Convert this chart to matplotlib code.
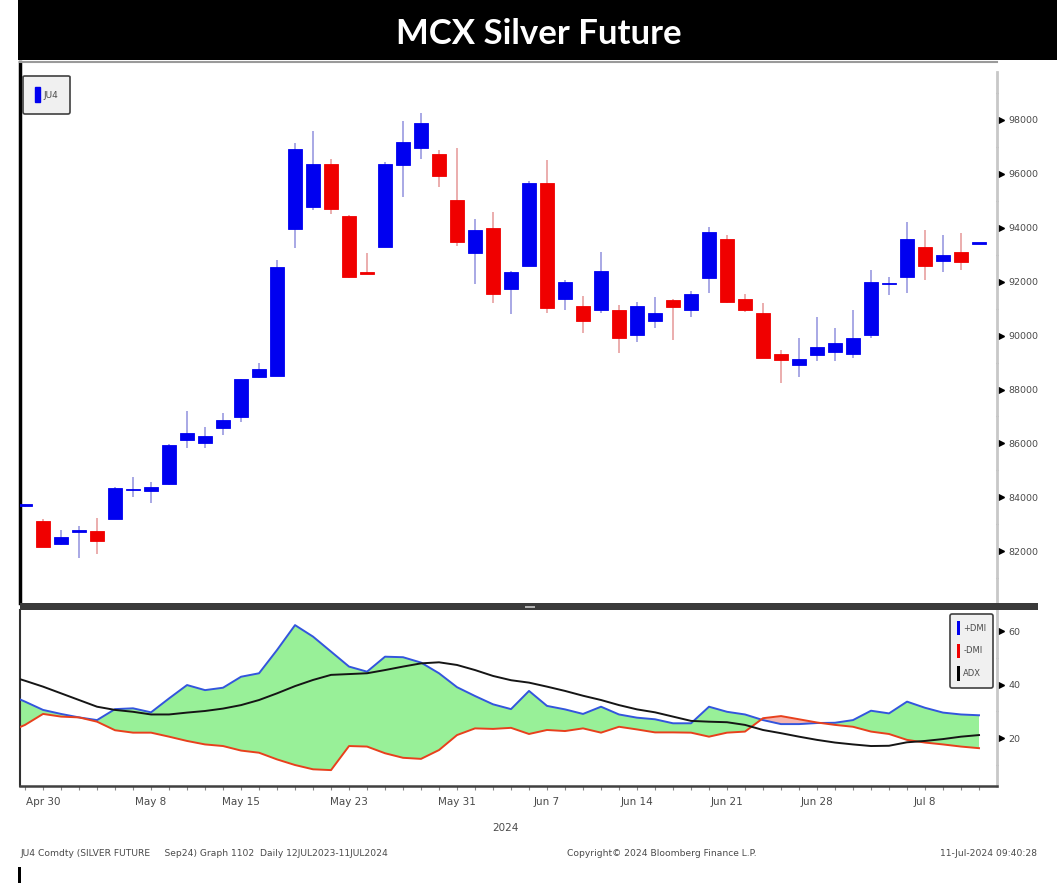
import numpy as np
import matplotlib
matplotlib.use("Agg")
import matplotlib.pyplot as plt
import matplotlib.transforms as mtransforms
from matplotlib.patches import Rectangle, Patch

W, H = 1061, 883

# ---------------------------------------------------------------------------
# Data (daily candles, index 0 = 29 Apr 2024 ... 53 = 11 Jul 2024)
# ---------------------------------------------------------------------------
opens = [83680, 83120, 82270, 82720, 82750, 83200, 84260, 84250, 84480, 86130,
         86000, 86570, 86990, 88450, 88500, 93950, 94760, 96370, 94450, 92350,
         93290, 96330, 96970, 96730, 95030, 93080, 93980, 91720, 92590, 95670,
         91360, 91110, 90950, 90950, 90020, 90550, 91320, 90950, 92140, 93590,
         91360, 90840, 89320, 88910, 89280, 89390, 89320, 90020, 91900, 92180,
         93290, 92770, 93100, 93400]
closes = [83720, 82160, 82530, 82750, 82380, 84360, 84280, 84400, 85930, 86390,
          86280, 86870, 88380, 88770, 92530, 96910, 96370, 94690, 92190, 92300,
          96370, 97190, 97900, 95910, 93470, 93920, 91550, 92350, 95670, 91010,
          92000, 90540, 92410, 89900, 91110, 90830, 91070, 91550, 93850, 91250,
          90950, 89170, 89100, 89130, 89580, 89730, 89910, 91990, 91930, 93590,
          92580, 92990, 92730, 93440]
highs = [83760, 83200, 82790, 82950, 83230, 84400, 84770, 84580, 85980, 87200,
         86620, 87140, 88400, 88970, 92810, 97140, 97600, 96540, 94460, 93080,
         96450, 97960, 98250, 96890, 96950, 94320, 94600, 92410, 95750, 96520,
         92060, 91470, 93090, 91140, 91260, 91420, 91360, 91660, 94040, 93720,
         91550, 91200, 89470, 89910, 90690, 90280, 90950, 92440, 92180, 94220,
         93920, 93730, 93810, 93450]
lows = [83640, 82150, 82250, 81750, 81900, 83190, 84020, 83780, 84470, 85820,
        85820, 86310, 86810, 88440, 88490, 93240, 94660, 94510, 92150, 92290,
        93280, 95150, 96550, 95520, 93340, 91900, 91200, 90800, 92580, 90830,
        90950, 90090, 90830, 89340, 89780, 90270, 89840, 90700, 91580, 91200,
        90880, 89160, 88240, 88470, 89060, 89060, 89170, 89910, 91510, 91580,
        92060, 92360, 92440, 93390]

# DMI study, index -1 .. 53
plus_dmi = [36.5, 33.6, 30.5, 29.0, 27.7, 26.7, 30.8, 31.1, 29.6, 34.8, 39.8,
            37.9, 38.8, 42.9, 44.2, 52.9, 62.2, 57.9, 52.3, 46.7, 44.8, 50.4,
            50.2, 48.2, 44.2, 39.0, 35.7, 32.6, 30.8, 37.6, 32.0, 30.7, 29.0,
            31.7, 28.8, 27.6, 27.0, 25.5, 25.5, 31.7, 29.8, 28.8, 26.7, 25.2,
            25.2, 25.6, 25.7, 26.7, 30.2, 29.2, 33.6, 31.3, 29.5, 28.8, 28.5]
minus_dmi = [22.0, 24.9, 29.0, 28.0, 27.7, 26.1, 22.9, 22.0, 22.0, 20.5, 18.9,
             17.6, 17.0, 15.3, 14.5, 12.0, 9.9, 8.3, 8.0, 17.0, 16.8, 14.3,
             12.6, 12.2, 15.5, 21.1, 23.6, 23.4, 23.8, 21.5, 23.0, 22.6, 23.6,
             22.0, 24.2, 23.2, 22.1, 22.1, 22.0, 20.5, 22.0, 22.4, 27.4, 28.2,
             27.0, 25.8, 24.9, 24.2, 22.4, 21.5, 19.3, 18.3, 17.6, 16.8, 16.2]
adx = [43.5, 41.4, 39.2, 36.7, 34.2, 31.7, 30.5, 29.8, 28.8, 28.8, 29.5,
       30.1, 31.0, 32.3, 34.2, 36.7, 39.4, 41.7, 43.6, 43.9, 44.2, 45.4,
       46.7, 47.9, 48.3, 47.3, 45.4, 43.2, 41.6, 40.7, 39.2, 37.6, 35.8,
       34.2, 32.3, 30.7, 29.6, 28.0, 26.4, 26.1, 25.9, 24.9, 23.0, 21.8,
       20.5, 19.3, 18.3, 17.6, 17.0, 17.1, 18.4, 18.9, 19.6, 20.5, 21.1]

date_idx = [1, 7, 12, 18, 24, 29, 34, 39, 44, 50]
date_labels = ["Apr 30", "May 8", "May 15", "May 23", "May 31", "Jun 7",
               "Jun 14", "Jun 21", "Jun 28", "Jul 8"]

price_ticks = [82000, 84000, 86000, 88000, 90000, 92000, 94000, 96000, 98000]
dmi_ticks = [20, 40, 60]

BLUE = "#0000f0"
RED = "#f00000"
GRAY_TXT = "#4a4a4a"
SMALL_FONT = ["Liberation Sans Narrow", "DejaVu Sans"]


def fx(px):
    return px / W


def fy(py):
    return 1 - py / H


fig = plt.figure(figsize=(W / 100, H / 100), dpi=100)
fig.patch.set_facecolor("white")

# title band
fig.patches.append(Rectangle((fx(18), fy(60)), fx(1057) - fx(18), fy(0) - fy(60),
                             transform=fig.transFigure, facecolor="black",
                             edgecolor="none", zorder=0))
fig.text(fx(539), fy(34), "MCX Silver Future", color="white", fontsize=25,
         fontweight="bold", family="Lato", ha="center", va="center")

# ---------------------------------------------------------------------------
# Upper panel: candles
# ---------------------------------------------------------------------------
ax = fig.add_axes([fx(20), fy(603), fx(997) - fx(20), fy(62) - fy(603)])
n = len(opens)
idx = np.arange(n)
o = np.array(opens, float)
c = np.array(closes, float)
up = c >= o
cols = np.where(up, BLUE, RED)
wick_cols = np.where(up, "#9a9ae0", "#e8a0a0")

ax.vlines(idx, lows, highs, colors=wick_cols, linewidth=1.2, zorder=2)
body = np.where(np.abs(c - o) < 60, 60, np.abs(c - o))
ax.bar(idx, body, bottom=np.minimum(o, c), width=0.82, color=cols,
       edgecolor=cols, linewidth=0.6, zorder=3)

ax.set_xlim(-0.28, 54.0)
ax.set_ylim(80080, 100150)
ax.set_xticks([])
ax.yaxis.tick_right()
ax.set_yticks(price_ticks)
ax.set_yticklabels([str(t) for t in price_ticks], fontsize=6.8, color=GRAY_TXT,
                   family=SMALL_FONT)
ax.set_yticks(np.arange(81000, 100000, 2000), minor=True)
ax.tick_params(axis="y", which="major", length=0, pad=8)
ax.tick_params(axis="y", which="minor", length=2, width=1, color="#555555",
               direction="inout")
ax.spines["left"].set_color("black")
ax.spines["left"].set_linewidth(2.5)
ax.spines["top"].set_color("#9a9a9a")
ax.spines["top"].set_linewidth(1.5)
ax.spines["bottom"].set_visible(False)
ax.spines["right"].set_color("#c8c8c8")
ax.spines["right"].set_linewidth(2)
ax.spines["right"].set_bounds(80080, 99780)
trans = mtransforms.blended_transform_factory(ax.transAxes, ax.transData)
ax.plot([1.004] * len(price_ticks), price_ticks, ls="none", marker=">", ms=4,
        color="black", transform=trans, clip_on=False)

leg = ax.legend(handles=[Patch(facecolor=BLUE, edgecolor=BLUE, label="JU4")],
                loc="upper left", bbox_to_anchor=(0.003, 0.975), borderaxespad=0,
                handlelength=0.55, handleheight=2.2, handletextpad=0.4,
                borderpad=1.3, fancybox=True, framealpha=1,
                prop={"family": SMALL_FONT, "size": 6.5})
leg.get_frame().set_facecolor("#f0f0f0")
leg.get_frame().set_edgecolor("#404040")
leg.get_frame().set_linewidth(1.2)
for t in leg.get_texts():
    t.set_color(GRAY_TXT)

# separator bar
fig.patches.append(Rectangle((fx(20), fy(610)), fx(1038) - fx(20), fy(603) - fy(610),
                             transform=fig.transFigure, facecolor="#3a3a3a",
                             edgecolor="none", zorder=5))
fig.patches.append(Rectangle((fx(525), fy(607.5)), fx(10), fy(606) - fy(607.5),
                             transform=fig.transFigure, facecolor="#b0b0b0",
                             edgecolor="none", zorder=6))

# ---------------------------------------------------------------------------
# Lower panel: DMI
# ---------------------------------------------------------------------------
ax2 = fig.add_axes([fx(20), fy(786), fx(997) - fx(20), fy(610) - fy(786)])
didx = np.arange(-1, n)
p = np.array(plus_dmi)
m = np.array(minus_dmi)
ax2.fill_between(didx, p, m, where=p >= m, interpolate=True, color="#98f098",
                 linewidth=0, zorder=1)
ax2.fill_between(didx, p, m, where=p < m, interpolate=True, color="#f5b5b0",
                 linewidth=0, zorder=1)
ax2.plot(didx, p, color="#3355dd", lw=1.4, zorder=3, label="+DMI")
ax2.plot(didx, m, color="#e8401c", lw=1.4, zorder=3, label="-DMI")
ax2.plot(didx, adx, color="#151515", lw=1.4, zorder=4, label="ADX")

ax2.set_xlim(-0.28, 54.0)
ax2.set_ylim(2.06, 67.85)
ax2.set_xticks(date_idx)
ax2.set_xticklabels(date_labels, fontsize=7.5, color=GRAY_TXT, family=SMALL_FONT)
ax2.set_xticks(np.arange(0, n), minor=True)
ax2.tick_params(axis="x", which="both", length=3, width=0.8, color="#888888",
                pad=5)
ax2.yaxis.tick_right()
ax2.set_yticks(dmi_ticks)
ax2.set_yticklabels([str(t) for t in dmi_ticks], fontsize=6.8, color=GRAY_TXT,
                    family=SMALL_FONT)
ax2.set_yticks([10, 30, 50], minor=True)
ax2.tick_params(axis="y", which="major", length=0, pad=8)
ax2.tick_params(axis="y", which="minor", length=2, width=1, color="#555555",
                direction="inout")
ax2.spines["top"].set_visible(False)
ax2.spines["left"].set_color("#303030")
ax2.spines["left"].set_linewidth(1.5)
ax2.spines["bottom"].set_color("#404040")
ax2.spines["bottom"].set_linewidth(1.8)
ax2.spines["right"].set_color("#c8c8c8")
ax2.spines["right"].set_linewidth(2)
trans2 = mtransforms.blended_transform_factory(ax2.transAxes, ax2.transData)
ax2.plot([1.004] * len(dmi_ticks), dmi_ticks, ls="none", marker=">", ms=4,
         color="black", transform=trans2, clip_on=False)

handles = [Patch(facecolor=BLUE, label="+DMI"), Patch(facecolor=RED, label="-DMI"),
           Patch(facecolor="black", label="ADX")]
leg2 = ax2.legend(handles=handles, loc="upper right", bbox_to_anchor=(0.996, 0.977),
                  borderaxespad=0, handlelength=0.45, handleheight=2.3,
                  handletextpad=0.35, labelspacing=1.0, borderpad=0.8,
                  fancybox=True, framealpha=1,
                  prop={"family": SMALL_FONT, "size": 6})
leg2.get_frame().set_facecolor("#f0f0f0")
leg2.get_frame().set_edgecolor("#404040")
leg2.get_frame().set_linewidth(1.2)
for t in leg2.get_texts():
    t.set_color(GRAY_TXT)

# footer texts
fig.text(fx(505), fy(828), "2024", fontsize=7.5, color=GRAY_TXT, family=SMALL_FONT,
         ha="center", va="center")
fig.text(fx(21), fy(853),
         "JU4 Comdty (SILVER FUTURE     Sep24) Graph 1102  Daily 12JUL2023-11JUL2024",
         fontsize=6.6, color=GRAY_TXT, family=SMALL_FONT, ha="left", va="center")
fig.text(fx(662), fy(853), "Copyright\u00a9 2024 Bloomberg Finance L.P.", fontsize=6.6,
         color=GRAY_TXT, family=SMALL_FONT, ha="center", va="center")
fig.text(fx(1037), fy(853), "11-Jul-2024 09:40:28", fontsize=6.6, color=GRAY_TXT,
         family=SMALL_FONT, ha="right", va="center")
fig.patches.append(Rectangle((fx(18), fy(883)), fx(3), fy(867) - fy(883),
                             transform=fig.transFigure, facecolor="black",
                             edgecolor="none"))

fig.savefig("out.png", dpi=100)
